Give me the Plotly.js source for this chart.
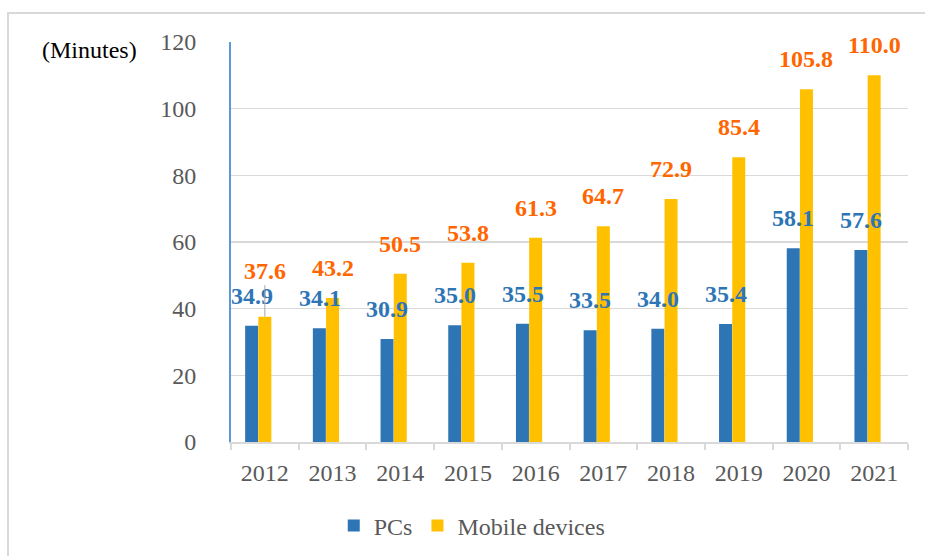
<!DOCTYPE html>
<html>
<head>
<meta charset="utf-8">
<script src="https://cdn.plot.ly/plotly-3.0.1.min.js"></script>
<style>
  html, body { margin: 0; padding: 0; background: #fff; }
  #chart { width: 925px; height: 556px; }
</style>
</head>
<body>
<div id="chart"></div>
<script>
const years = ['2012', '2013', '2014', '2015', '2016', '2017', '2018', '2019', '2020', '2021'];
const pcs = [34.9, 34.1, 30.9, 35.0, 35.5, 33.5, 34.0, 35.4, 58.1, 57.6];
const mobile = [37.6, 43.2, 50.5, 53.8, 61.3, 64.7, 72.9, 85.4, 105.8, 110.0];

const serif = 'Liberation Serif';
const blue = '#2e75b6';
const gold = '#ffc000';
const orange = '#ff6600';

const tracePc = {
    x: years,
    y: pcs,
    name: 'PCs',
    type: 'bar',
    width: 0.192,
    offset: -0.291,
    marker: {color: blue},
    hoverinfo: 'skip'
};

const traceMobile = {
    x: years,
    y: mobile,
    name: 'Mobile devices',
    type: 'bar',
    width: 0.192,
    offset: -0.096,
    marker: {color: gold},
    hoverinfo: 'skip'
};

// value labels above the bars
function labels(vals, color, xshift) {
    return vals.map((v, i) => ({
        xref: 'x',
        yref: 'y',
        x: i,
        y: v,
        text: '<b>' + v.toFixed(1) + '</b>',
        showarrow: false,
        xshift: xshift,
        yshift: 15,
        yanchor: 'bottom',
        font: {family: serif, size: 24, color: color}
    }));
}

const pcLabels = labels(pcs, blue, -13);
const mobileLabels = labels(mobile, orange, 0);
// first mobile label sits higher, with a leader line down to the bar
Object.assign(mobileLabels[0], {
    showarrow: true, arrowhead: 0, arrowwidth: 1, arrowcolor: '#a6a6a6',
    standoff: 0, ax: 0, ay: -46, yshift: 0, yanchor: 'middle'
});

const layout = {
    width: 925,
    height: 556,
    paper_bgcolor: '#fff',
    plot_bgcolor: '#fff',
    font: {family: serif},
    margin: {l: 231, r: 17, t: 42, b: 114},
    barmode: 'overlay',
    showlegend: true,
    legend: {
        orientation: 'h',
        xref: 'container', yref: 'container',
        x: 0.51, xanchor: 'center',
        y: 0.054, yanchor: 'middle',
        font: {family: serif, size: 24, color: '#595959'}
    },
    xaxis: {
        type: 'category',
        range: [-0.5, 9.5],
        showline: true,
        linecolor: '#d9d9d9',
        linewidth: 2,
        ticks: 'outside',
        tickson: 'boundaries',
        ticklen: 6,
        tickwidth: 2,
        tickcolor: '#d9d9d9',
        ticklabelstandoff: 8,
        tickfont: {family: serif, size: 24, color: '#595959'},
        fixedrange: true
    },
    yaxis: {
        range: [0, 120],
        dtick: 20,
        showline: true,
        linecolor: '#5b9bd5',
        linewidth: 2,
        gridcolor: '#d9d9d9',
        gridwidth: 1.5,
        zeroline: false,
        ticks: '',
        ticklabelstandoff: 28,
        tickfont: {family: serif, size: 24, color: '#595959'},
        fixedrange: true
    },
    annotations: [
        {
            xref: 'paper', yref: 'paper',
            x: -0.2097, y: 0.98,
            xanchor: 'center', yanchor: 'middle',
            text: '(Minutes)',
            showarrow: false,
            font: {family: serif, size: 24, color: '#000'}
        }
    ].concat(pcLabels, mobileLabels),
    shapes: [
        {
            type: 'rect', xref: 'paper', yref: 'paper',
            x0: -0.3294, x1: 2, y0: -1, y1: 1.0725,
            line: {color: '#d9d9d9', width: 2},
            layer: 'below'
        }
    ]
};

Plotly.newPlot('chart', [tracePc, traceMobile], layout, {displayModeBar: false, staticPlot: true});
</script>
</body>
</html>
